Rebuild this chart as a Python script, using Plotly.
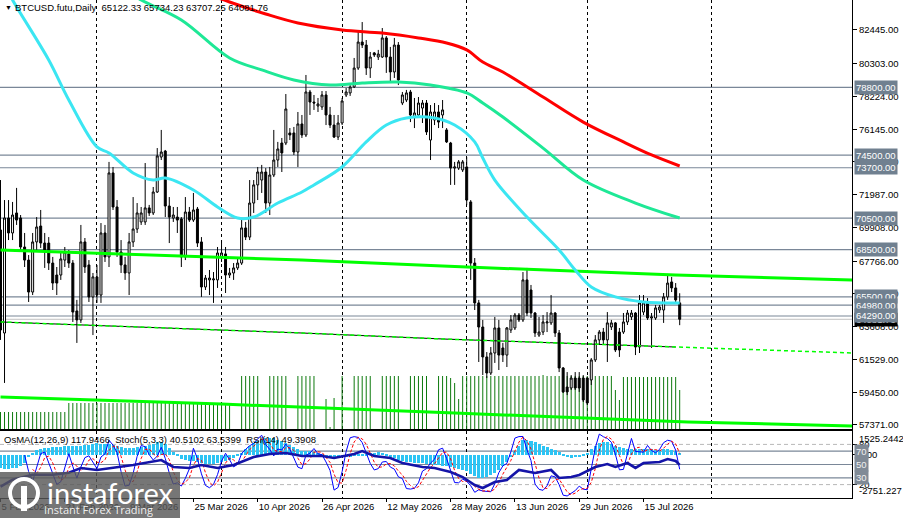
import plotly.graph_objects as go
import pandas as pd

FIRST_DAY = "2026-02-05"

# daily OHLC (Feb 5 .. Jul 24 2026)
open_ = [69750, 63210, 70510, 69560, 70830, 70510, 68670, 67840, 65810, 68990,
         70000, 68920, 68920, 67650, 66890, 66890, 67840, 68230, 67650, 64610,
         64040, 68990, 67530, 65500, 66770, 65620, 69560, 68040, 73370, 71210,
         68350, 67530, 67020, 68990, 69810, 70260, 70260, 71150, 70830, 72160,
         74380, 74760, 71270, 70510, 70570, 70450, 68040, 70890, 70380, 71080,
         68990, 66130, 66580, 66580, 66580, 68040, 68230, 66890, 67020, 67340,
         67650, 69880, 69300, 71460, 72610, 72920, 73430, 71460, 73240, 74190,
         75270, 75270, 75910, 75910, 74700, 76480, 75780, 78510, 77870, 77620,
         77560, 78320, 77050, 76410, 75650, 76540, 78320, 78450, 78830, 80030,
         81680, 81490, 80030, 80990, 80730, 80730, 81940, 80730, 79780, 81490,
         77810, 78000, 78510, 76920, 77050, 77490, 77810, 75460, 76730, 77240,
         77050, 76100, 75270, 73680, 73680, 73560, 73750, 71530, 67650, 65120,
         63590, 61690, 60670, 61940, 63530, 62260, 61810, 63400, 63530, 64350,
         64040, 66580, 65940, 64480, 63080, 63270, 63850, 63850, 64480, 63210,
         60990, 59780, 59720, 60350, 60350, 60350, 60350, 60230, 61500, 62770,
         63270, 62770, 63590, 63850, 63270, 63270, 63910, 64230, 64480, 62320,
         64540, 65120, 64160, 64160, 64670, 64670, 65500, 66450, 66070, 65122.33]
high = [72920, 71650, 71650, 71530, 72420, 70700, 69560, 68160, 69560, 70570,
        71020, 69560, 69300, 68040, 67400, 68290, 68670, 68480, 67840, 65310,
        70070, 69240, 67840, 67020, 67530, 70190, 70070, 74070, 73750, 71650,
        69110, 68040, 69560, 71840, 71460, 71210, 74000, 71340, 72480, 74950,
        76100, 74830, 71840, 71210, 71210, 70570, 71840, 71210, 72100, 71210,
        69300, 66890, 67210, 67080, 68670, 69110, 68670, 67340, 67650, 67970,
        70510, 70260, 72920, 72920, 73750, 73880, 73680, 73750, 76100, 75340,
        75590, 78380, 76220, 76290, 77240, 77050, 79590, 78640, 78320, 78130,
        78570, 78570, 77560, 77050, 77050, 78130, 78760, 78950, 80670, 82320,
        82950, 81810, 81050, 81050, 81180, 82570, 82060, 81370, 81940, 81680,
        78510, 78640, 78640, 78130, 78190, 78000, 78000, 77680, 77810, 77680,
        78000, 76220, 75340, 74070, 74190, 74190, 74380, 71650, 67970, 65310,
        64040, 62000, 62320, 64230, 64040, 62580, 63590, 64350, 64480, 64480,
        67080, 67340, 66260, 64540, 64230, 64350, 64540, 65620, 64540, 63400,
        61050, 60730, 60540, 60730, 60730, 60540, 60420, 61620, 63080, 63400,
        63530, 64540, 64040, 63910, 63530, 64480, 64670, 64670, 64540, 65620,
        65620, 65430, 64480, 64990, 64990, 65750, 66960, 66770, 66380, 65734.23]
low = [62770, 60040, 69110, 69110, 70070, 68480, 67400, 65180, 65620, 68480,
       68610, 67340, 67210, 65940, 65620, 66580, 67400, 67340, 63910, 62580,
       63850, 67020, 65180, 63080, 65120, 65120, 67720, 67400, 71020, 68040,
       67020, 66580, 65620, 68670, 69560, 70070, 70070, 70640, 70700, 72100,
       74190, 70570, 68920, 70260, 69560, 67400, 67840, 70260, 70260, 68670,
       65500, 65940, 65620, 65120, 66070, 67720, 65750, 66700, 66580, 67210,
       67530, 69110, 69110, 70830, 71650, 72100, 70830, 70700, 73110, 73750,
       73430, 75140, 75460, 74510, 73750, 75590, 75650, 77050, 77370, 77240,
       77370, 76410, 76220, 75590, 75460, 76410, 78190, 78260, 78760, 79910,
       81300, 79590, 79400, 80730, 80540, 80670, 79720, 79140, 79400, 78950,
       77680, 77870, 76600, 76220, 76860, 76540, 75780, 74190, 76410, 76220,
       76220, 75270, 72610, 72610, 73560, 73430, 71340, 66580, 64670, 61370,
       60540, 60350, 60540, 61310, 60860, 61370, 61050, 63210, 63400, 63910,
       63910, 64290, 64160, 62960, 62960, 63080, 63270, 63720, 62960, 60730,
       59400, 59270, 59590, 59590, 59470, 58830, 58640, 59910, 61370, 62450,
       62450, 61370, 63400, 62000, 61690, 63150, 63720, 64040, 61810, 61940,
       64350, 64040, 62260, 64040, 64480, 63850, 65310, 65810, 65120, 63707.25]
close = [63400, 70510, 69560, 70700, 70380, 68670, 67840, 65810, 68990, 69940,
         68920, 68480, 67650, 66380, 66380, 67910, 68350, 67650, 64540, 64040,
         68990, 67400, 65500, 66770, 65620, 69560, 68040, 73370, 71210, 68350,
         67530, 67020, 68990, 69810, 70830, 70830, 71150, 70830, 72160, 74450,
         74700, 71270, 70570, 70700, 70380, 68040, 70890, 70380, 71020, 68920,
         66130, 66700, 66700, 66640, 68290, 68290, 66890, 67020, 67340, 67650,
         69880, 69300, 71460, 72610, 73430, 73430, 71460, 73240, 74190, 74890,
         74640, 77430, 75780, 74700, 76480, 75780, 78510, 77870, 77810, 77750,
         78320, 77050, 76410, 75650, 76540, 77940, 78510, 78830, 80030, 81680,
         81490, 80030, 80730, 80860, 80920, 81940, 80730, 79780, 81490, 79270,
         78320, 78450, 77050, 77180, 77810, 77810, 75970, 77240, 77240, 76600,
         77370, 75340, 73680, 73750, 74070, 74070, 71650, 67650, 65120, 63590,
         61690, 60670, 61940, 63530, 61810, 61810, 63530, 64040, 64350, 64040,
         66580, 64480, 64480, 63210, 63270, 63910, 63910, 64480, 63210, 60990,
         59470, 59470, 60350, 59720, 59720, 58960, 58770, 61500, 62770, 63270,
         62770, 63850, 63850, 62130, 62130, 63910, 64480, 64480, 62320, 65120,
         65120, 64160, 64230, 64800, 64860, 65500, 66380, 66070, 65310, 64081.76]
volume = [17, 17, 17, 17, 17, 17, 17, 17, 17, 17,
          17, 17, 17, 17, 17, 17, 17, 26, 26, 26,
          26, 26, 26, 26, 26, 26, 26, 26, 26, 26,
          26, 26, 26, 26, 26, 26, 26, 26, 26, 26,
          26, 26, 26, 26, 26, 26, 26, 26, 26, 26,
          26, 26, 26, 26, 26, 26, 26, 26, 0, 0,
          53, 53, 53, 53, 53, 0, 0, 53, 53, 53,
          53, 53, 0, 0, 53, 53, 53, 53, 53, 0,
          0, 30, 2, 31, 0, 53, 0, 0, 53, 53,
          53, 53, 53, 0, 0, 53, 53, 53, 53, 53,
          0, 0, 53, 53, 53, 53, 53, 0, 0, 53,
          53, 53, 51, 46, 30, 53, 53, 53, 53, 53,
          53, 53, 53, 53, 53, 53, 53, 53, 53, 53,
          53, 53, 53, 53, 53, 54, 53, 53, 53, 53,
          53, 53, 53, 53, 53, 53, 53, 53, 53, 53,
          53, 53, 53, 39, 29, 52, 52, 52, 52, 52,
          52, 52, 52, 52, 52, 52, 52, 52, 52, 39]

# OsMA(12,26,9) histogram, one value per bar
osma = [-850, -870, -880, -860, -820, -700, -500, -150, 150, 300,
        380, 420, 450, 480, 500, 520, 540, 560, 560, 540,
        580, 620, 650, 700, 760, 720, 680, 700, 650, 560,
        500, 450, 420, 450, 480, 520, 560, 620, 700, 800,
        850, 700, 450, 200, -100, -250, -350, -400, -420, -450,
        -520, -560, -570, -560, -520, -450, -400, -320, -220, -100,
        150, 350, 550, 750, 900, 1000, 1050, 1080, 1050, 980,
        880, 760, 620, 480, 350, 280, 240, 220, 200, 150,
        -80, -150, -200, -220, -200, -160, -150, -140, -100, -60,
        -40, -20, 80, 150, 180, 150, -80, -150, -220, -300,
        -380, -430, -470, -500, -520, -540, -560, -600, -620, -650,
        -680, -720, -780, -850, -900, -950, -1050, -1200, -1350, -1470,
        -1450, -1400, -1300, -1150, -950, -700, -450, -150, 250, 600,
        950, 960, 900, 800, 700, 600, 500, 400, 300, 200,
        -50, -150, -180, -160, -150, -100, 100, 350, 600, 750,
        830, 800, 700, 600, 500, 450, 400, 400, 350, 380,
        400, 380, 350, 320, 330, 350, 380, 330, 250, 117.95]

# RSI(14)
rsi_dates = ["2026-02-05", "2026-02-08", "2026-02-13", "2026-02-18", "2026-02-22", "2026-02-25",
             "2026-03-01", "2026-03-05", "2026-03-10", "2026-03-17", "2026-03-20", "2026-03-24",
             "2026-03-27", "2026-03-31", "2026-04-04", "2026-04-09", "2026-04-13", "2026-04-17",
             "2026-04-21", "2026-04-26", "2026-04-29", "2026-05-04", "2026-05-06", "2026-05-09",
             "2026-05-13", "2026-05-16", "2026-05-21", "2026-05-24", "2026-05-28", "2026-05-31",
             "2026-06-03", "2026-06-05", "2026-06-08", "2026-06-11", "2026-06-14", "2026-06-18",
             "2026-06-22", "2026-06-24", "2026-06-27", "2026-06-29", "2026-07-03", "2026-07-06",
             "2026-07-08", "2026-07-11", "2026-07-13", "2026-07-15", "2026-07-19", "2026-07-21",
             "2026-07-23", "2026-07-24"]
rsi_vals = [16.9, 27.3, 34.8, 34.8, 37.8, 44.8, 41.8, 44.8, 49.3, 56.7, 46.3, 44.8,
            49.3, 44.8, 49.3, 61.2, 65.7, 67.2, 62.7, 62.7, 59.7, 65.7, 70.1, 62.7,
            59.7, 52.2, 46.3, 44.8, 38.8, 31.3, 19.4, 14.9, 23.9, 26.9, 41.8, 37.3,
            41.8, 29.9, 31.3, 34.3, 46.3, 50.7, 46.3, 52.2, 44.8, 52.2, 53.7, 58.2,
            55.2, 49.39]

# moving averages, read at a few points along each curve
cyan_dates = ["2026-02-05", "2026-02-08", "2026-02-17", "2026-02-22", "2026-03-01", "2026-03-04",
              "2026-03-10", "2026-03-15", "2026-03-18", "2026-03-25", "2026-03-31", "2026-04-05",
              "2026-04-09", "2026-04-15", "2026-04-21", "2026-04-24", "2026-05-01", "2026-05-07",
              "2026-05-12", "2026-05-17", "2026-05-24", "2026-05-29", "2026-06-03", "2026-06-05",
              "2026-06-08", "2026-06-16", "2026-06-24", "2026-06-28", "2026-07-02", "2026-07-08",
              "2026-07-15", "2026-07-24"]
cyan_vals = [85810, 84350, 80540, 78000, 75020, 74640, 73370, 72920, 73050, 72290, 71210, 70510,
             70570, 71460, 72160, 72610, 73750, 75340, 76410, 76860, 76860, 76410, 75340, 74320,
             72920, 70570, 68480, 67210, 66130, 65500, 65180, 65110]
teal_dates = ["2026-03-06", "2026-03-12", "2026-03-22", "2026-04-03", "2026-04-11", "2026-04-19",
              "2026-04-28", "2026-05-06", "2026-05-15", "2026-05-23", "2026-06-01", "2026-06-05",
              "2026-06-10", "2026-06-20", "2026-06-30", "2026-07-13", "2026-07-24"]
teal_vals = [85300, 84350, 83080, 80670, 79910, 79270, 78950, 79080, 79140, 78950, 78450, 77810,
             76920, 74950, 72920, 71460, 70510]
red_dates = ["2026-03-26", "2026-04-03", "2026-04-12", "2026-04-20", "2026-05-01", "2026-05-11",
             "2026-05-20", "2026-05-27", "2026-06-01", "2026-06-05", "2026-06-10", "2026-06-20",
             "2026-06-30", "2026-07-10", "2026-07-17", "2026-07-24"]
red_vals = [84980, 84220, 83460, 82890, 82450, 82250, 81940, 81620, 81180, 80410, 79780, 78190,
            76600, 75340, 74510, 73810]
lime_dates = ["2026-02-05", "2026-04-21", "2026-05-26", "2026-07-23", "2026-09-05"]
lime_top = [68480, 67840, 67460, 66890, 66580]
lime_mid = [63910, 63210, 62830, 62320, 61940]
lime_low_dates = ["2026-02-05", "2026-04-01", "2026-05-29", "2026-07-26", "2026-09-05"]
lime_low = [59150, 58700, 58130, 57560, 57310]

levels = [78800, 74500, 73700, 70500, 68500, 65500, 64980, 64290]
bid = 64081.76
price_ticks = [82445, 80303, 78224, 76145, 74066, 71987, 69908, 67766, 65687, 63608, 61529, 59450, 57371]
label_dates = ["2026-02-05", "2026-02-21", "2026-03-09", "2026-03-25", "2026-04-10", "2026-04-26",
               "2026-05-12", "2026-05-28", "2026-06-13", "2026-06-29", "2026-07-15"]
month_starts = ["2026-03-01", "2026-04-01", "2026-05-01", "2026-06-01", "2026-07-01", "2026-08-01"]

dates = pd.date_range(FIRST_DAY, periods=len(close), freq="D")

# Stoch(5,3,3) from the bars
c = pd.Series(close, index=dates)
hh = pd.Series(high, index=dates).rolling(5).max()
ll = pd.Series(low, index=dates).rolling(5).min()
stoch_k = 100 * (c - ll).rolling(3).sum() / (hh - ll).rolling(3).sum()
stoch_d = stoch_k.rolling(3).mean()

W, H = 903, 518
PW = 852
DAY = 86400000
FONT = "Liberation Sans"
FS = 9.5


def dom(top, bot):
    return [1 - bot / H, 1 - top / H]


def px(x):
    return x / PW


def py(y):
    return 1 - y / H


# volume drawn as 1px sticks
vol_x, vol_y = [], []
for d, v in zip(dates, volume):
    if v > 0:
        vol_x += [d, d, None]
        vol_y += [0, v, None]

fig = go.Figure()

fig.add_trace(go.Scatter(x=vol_x, y=vol_y, mode="lines", xaxis="x", yaxis="y",
                         line=dict(color="#0e7a0e", width=1)))
fig.add_trace(go.Candlestick(x=dates, open=open_, high=high, low=low, close=close,
                             xaxis="x", yaxis="y4", whiskerwidth=0,
                             increasing=dict(line=dict(color="black", width=1), fillcolor="white"),
                             decreasing=dict(line=dict(color="black", width=1), fillcolor="black")))

fig.add_trace(go.Scatter(x=lime_dates, y=lime_top, mode="lines", xaxis="x", yaxis="y4",
                         line=dict(color="#00ff00", width=3)))
fig.add_trace(go.Scatter(x=lime_dates[:4], y=lime_mid[:4], mode="lines", xaxis="x", yaxis="y4",
                         line=dict(color="black", width=1)))
fig.add_trace(go.Scatter(x=lime_dates, y=lime_mid, mode="lines", xaxis="x", yaxis="y4",
                         line=dict(color="#00ff00", width=1.5, dash="4px,3px")))
fig.add_trace(go.Scatter(x=lime_low_dates, y=lime_low, mode="lines", xaxis="x", yaxis="y4",
                         line=dict(color="#00ff00", width=3)))
fig.add_trace(go.Scatter(x=cyan_dates, y=cyan_vals, mode="lines", xaxis="x", yaxis="y4",
                         line=dict(color="#3be6f2", width=3, shape="spline")))
fig.add_trace(go.Scatter(x=teal_dates, y=teal_vals, mode="lines", xaxis="x", yaxis="y4",
                         line=dict(color="#1ee896", width=3, shape="spline")))
fig.add_trace(go.Scatter(x=red_dates, y=red_vals, mode="lines", xaxis="x", yaxis="y4",
                         line=dict(color="#ff0000", width=3, shape="spline")))

# sub window
fig.add_trace(go.Bar(x=dates, y=osma, width=0.75 * DAY, marker_color="#2cc4f4",
                     marker_line_width=0, xaxis="x2", yaxis="y2"))
fig.add_trace(go.Scatter(x=dates, y=stoch_k, mode="lines", xaxis="x2", yaxis="y3",
                         line=dict(color="#0000ff", width=1)))
fig.add_trace(go.Scatter(x=dates, y=stoch_d, mode="lines", xaxis="x2", yaxis="y3",
                         line=dict(color="#ff0000", width=1, dash="3px,2px")))
fig.add_trace(go.Scatter(x=rsi_dates, y=rsi_vals, mode="lines", xaxis="x2", yaxis="y3",
                         line=dict(color="#1414a8", width=2.6)))

xrange_ = ["2026-02-04 21:00", "2026-09-04 21:00"]
grid = dict(tickmode="array", tickvals=month_starts, showgrid=True, gridcolor="black",
            griddash="3px,3px", gridwidth=1, ticks="")
frame = dict(showline=True, mirror=True, linecolor="black", linewidth=1, automargin=False)
tick_font = dict(family=FONT, size=FS, color="black")

fig.update_layout(
    width=W, height=H, autosize=False,
    margin=dict(l=0, r=W - PW, t=0, b=0, autoexpand=False),
    paper_bgcolor="white", plot_bgcolor="white",
    font=dict(family=FONT, size=FS, color="black"),
    showlegend=False, bargap=0,
    xaxis=dict(domain=[0, 1], anchor="y", type="date", range=xrange_, showticklabels=False,
               ticks="", showgrid=False, zeroline=False, minor=grid,
               rangeslider=dict(visible=False), **frame),
    yaxis=dict(domain=dom(0, 429), range=[0, 429], visible=False, fixedrange=True,
               automargin=False),
    yaxis4=dict(overlaying="y", anchor="x", side="right", range=[57116, 84349],
                tickmode="array", tickvals=price_ticks,
                ticktext=[f"{v:.2f}" for v in price_ticks], tickfont=tick_font,
                ticks="outside", ticklen=4, tickcolor="black", showgrid=False, zeroline=False,
                **frame),
    xaxis2=dict(domain=[0, 1], anchor="y2", matches="x", type="date", range=xrange_,
                tickmode="array", tickvals=label_dates, tickformat="%-d %b %Y",
                tickfont=tick_font, ticklabelposition="outside right", tickangle=0,
                ticks="outside", ticklen=3, tickcolor="black", showgrid=False,
                zeroline=False, minor=grid, **frame),
    yaxis2=dict(domain=dom(431, 498), anchor="x2", side="right",
                range=[-2751.227, 1525.2442], tickmode="array", tickvals=[0],
                ticktext=["0.00"], tickfont=tick_font, ticks="outside", ticklen=4,
                tickcolor="black", showgrid=False, zeroline=False, **frame),
    yaxis3=dict(overlaying="y2", anchor="x2", side="right", range=[0, 100],
                tickmode="array", tickvals=[80, 20], tickfont=tick_font, ticks="outside",
                ticklen=4, tickcolor="black", showgrid=False, zeroline=False,
                showline=False, automargin=False),
)

shapes = []
for lv in levels:
    shapes.append(dict(type="line", xref="x domain", x0=0, x1=1, yref="y4", y0=lv, y1=lv,
                       line=dict(color="#7a8798", width=1.2), layer="below"))
shapes.append(dict(type="line", xref="x domain", x0=0, x1=1, yref="y4", y0=bid, y1=bid,
                   line=dict(color="#c0c0c0", width=1), layer="below"))
for lv in [80, 20]:
    shapes.append(dict(type="line", xref="x2 domain", x0=0, x1=1, yref="y3", y0=lv, y1=lv,
                       line=dict(color="#b8b8b8", width=1, dash="4px,3px"), layer="below"))
for lv in [70, 50, 30]:
    shapes.append(dict(type="line", xref="x2 domain", x0=0, x1=1, yref="y3", y0=lv, y1=lv,
                       line=dict(color="#7a8798", width=1.2), layer="below"))

# instaforex watermark
shapes.append(dict(type="rect", xref="paper", yref="paper", x0=0, x1=px(180), y0=0, y1=py(472),
                   fillcolor="rgba(88,88,88,0.82)", line_width=0, layer="above"))
shapes.append(dict(type="circle", xref="paper", yref="paper", x0=px(10), x1=px(38),
                   y0=py(507), y1=py(479), line=dict(color="white", width=4), layer="above"))
shapes.append(dict(type="rect", xref="paper", yref="paper", x0=px(21), x1=px(27),
                   y0=py(511), y1=py(486), fillcolor="white", line_width=0, layer="above"))
fig.update_layout(shapes=shapes)

ann = [
    dict(text="\u25bc", xref="paper", yref="paper", x=px(3), y=py(8), xanchor="left",
         yanchor="middle", showarrow=False, font=dict(size=7)),
    dict(text="BTCUSD.futu,Daily\u00a0\u00a065122.33 65734.23 63707.25 64081.76", xref="paper",
         yref="paper", x=px(13), y=py(8), xanchor="left", yanchor="middle", showarrow=False),
    dict(text="OsMA(12,26,9) 117.9466\u00a0\u00a0Stoch(5,3,3) 40.5102 63.5399\u00a0\u00a0RSI(14) 49.3908",
         xref="paper", yref="paper", x=px(2), y=py(439), xanchor="left", yanchor="middle",
         showarrow=False),
    dict(text="1525.2442", xref="paper", yref="y2", x=1, y=1525.2442, xanchor="left",
         yanchor="top", xshift=5, showarrow=False),
    dict(text="-2751.227", xref="paper", yref="y2", x=1, y=-2751.227, xanchor="left",
         yanchor="bottom", xshift=5, showarrow=False),
    dict(text=f"{bid:.2f}", xref="paper", yref="y4", x=1, y=bid, xanchor="left", yanchor="middle",
         xshift=2, showarrow=False, bgcolor="black", font=dict(color="white"), borderpad=1),
]
for lv in levels:
    ann.append(dict(text=f"{lv:.2f}", xref="paper", yref="y4", x=1, y=lv, xanchor="left",
                    yanchor="middle", xshift=2, showarrow=False, bgcolor="#708090",
                    font=dict(color="white"), borderpad=1))
for lv in [70, 50, 30]:
    ann.append(dict(text=str(lv), xref="paper", yref="y3", x=1, y=lv, xanchor="left",
                    yanchor="middle", xshift=2, showarrow=False, bgcolor="#808a96",
                    font=dict(color="#f0f0f0"), borderpad=1))
ann.append(dict(text="instaforex", xref="paper", yref="paper", x=px(110), y=py(492),
                xanchor="center", yanchor="middle", showarrow=False,
                font=dict(family="Lato", size=29, color="white")))
ann.append(dict(text="Instant Forex Trading", xref="paper", yref="paper", x=px(98), y=py(509),
                xanchor="center", yanchor="middle", showarrow=False,
                font=dict(family="Open Sans", size=11, color="rgba(255,255,255,0.9)")))
fig.update_layout(annotations=ann)

fig.write_html("out.html", config={"displayModeBar": False},
               post_script="document.body.style.margin='0px';")
